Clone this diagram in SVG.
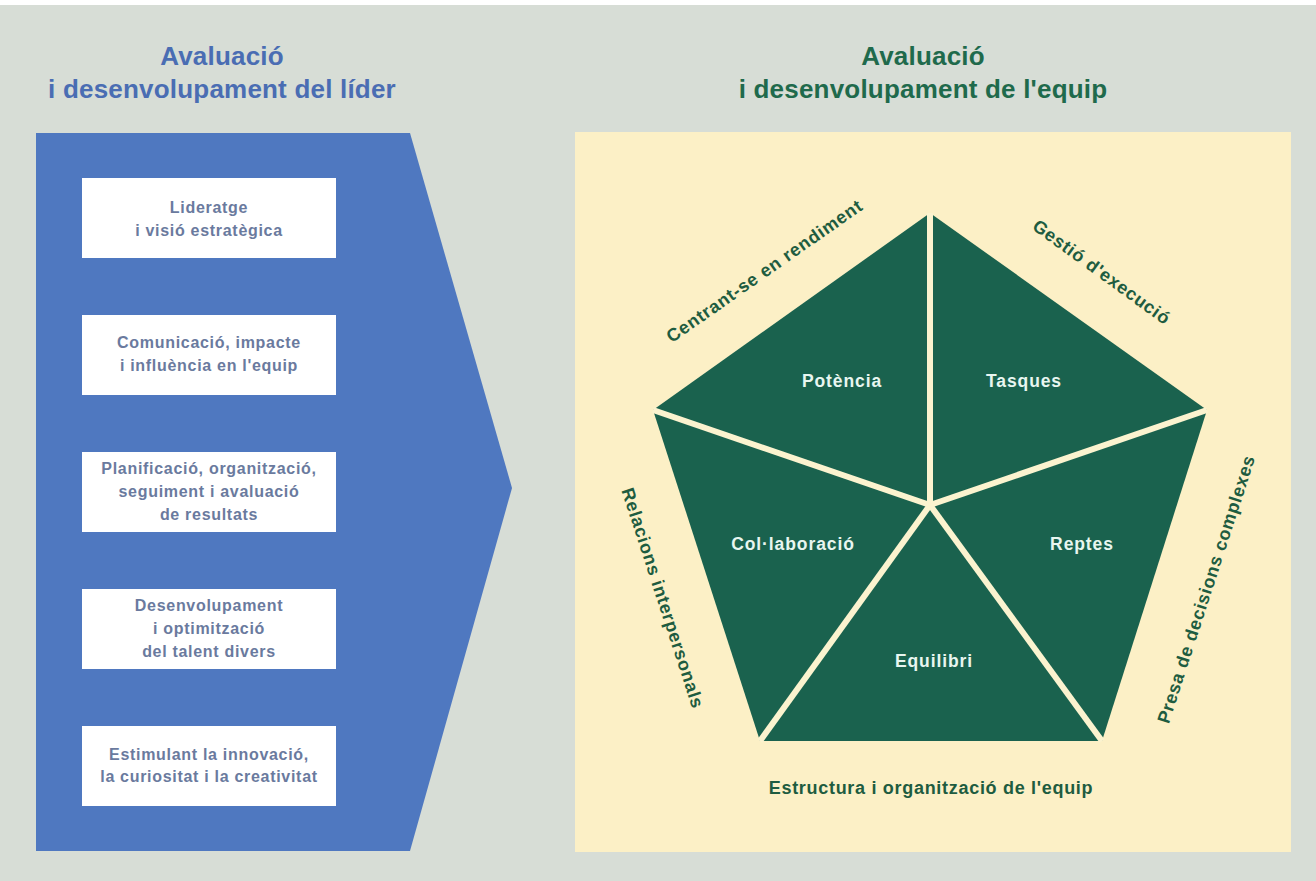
<svg xmlns="http://www.w3.org/2000/svg" width="1316" height="881" viewBox="0 0 1316 881">
<style>
text{font-family:"Liberation Sans",Arial,Helvetica,sans-serif;font-weight:bold;text-anchor:middle}
.title{font-size:26px;letter-spacing:0.2px}
.tl{fill:#4a6db3}
.tr{fill:#1f6a4c}
.box{fill:#ffffff}
.bt{font-size:16px;letter-spacing:0.7px;fill:#6a7a9e}
.sector{fill:#1a624e}
.st{font-size:17.5px;letter-spacing:0.9px;fill:#e8f6f0}
.edge{font-size:18px;letter-spacing:0.7px;fill:#1e5c40}
.div{stroke:#fbf3cf;stroke-width:6;fill:none}
</style>
<rect x="0" y="0" width="1316" height="881" fill="#d7ddd6"/>
<rect x="0" y="0" width="1316" height="5" fill="#ffffff"/>

<g id="title-left">
<text class="title tl" x="222" y="65">Avaluació</text>
<text class="title tl" x="222" y="98">i desenvolupament del líder</text>
</g>
<g id="title-right">
<text class="title tr" x="923" y="65">Avaluació</text>
<text class="title tr" x="923" y="98">i desenvolupament de l'equip</text>
</g>

<g id="leader-panel">
<polygon points="36,133 410,133 512,488 410,851 36,851" fill="#4f78c0"/>
</g>

<g id="box1">
<rect class="box" x="82" y="178" width="254" height="80"/>
<text class="bt" x="209" y="213">Lideratge</text>
<text class="bt" x="209" y="235.5">i visió estratègica</text>
</g>
<g id="box2">
<rect class="box" x="82" y="315" width="254" height="80"/>
<text class="bt" x="209" y="348">Comunicació, impacte</text>
<text class="bt" x="209" y="370.5">i influència en l'equip</text>
</g>
<g id="box3">
<rect class="box" x="82" y="452" width="254" height="80"/>
<text class="bt" x="209" y="474">Planificació, organització,</text>
<text class="bt" x="209" y="497">seguiment i avaluació</text>
<text class="bt" x="209" y="519.5">de resultats</text>
</g>
<g id="box4">
<rect class="box" x="82" y="589" width="254" height="80"/>
<text class="bt" x="209" y="611">Desenvolupament</text>
<text class="bt" x="209" y="634">i optimització</text>
<text class="bt" x="209" y="657">del talent divers</text>
</g>
<g id="box5">
<rect class="box" x="82" y="726" width="254" height="80"/>
<text class="bt" x="209" y="759.5">Estimulant la innovació,</text>
<text class="bt" x="209" y="782">la curiositat i la creativitat</text>
</g>

<g id="team-panel">
<rect x="575" y="132" width="716" height="720" fill="#fcf0c6"/>
</g>

<g id="sector-potencia">
<polygon class="sector" points="930,505 653,410 930,213"/>
<text class="st" x="842" y="387">Potència</text>
</g>
<g id="sector-tasques">
<polygon class="sector" points="930,505 930,213 1207,410"/>
<text class="st" x="1024" y="387">Tasques</text>
</g>
<g id="sector-reptes">
<polygon class="sector" points="930,505 1207,410 1102,741"/>
<text class="st" x="1082" y="550">Reptes</text>
</g>
<g id="sector-equilibri">
<polygon class="sector" points="930,505 1102,741 760,741"/>
<text class="st" x="934" y="667">Equilibri</text>
</g>
<g id="sector-collaboracio">
<polygon class="sector" points="930,505 760,741 653,410"/>
<text class="st" x="793" y="550">Col·laboració</text>
</g>

<g id="connectors">
<line class="div" x1="930" y1="505" x2="930" y2="213"/>
<line class="div" x1="930" y1="505" x2="1207" y2="410"/>
<line class="div" x1="930" y1="505" x2="1102" y2="741"/>
<line class="div" x1="930" y1="505" x2="760" y2="741"/>
<line class="div" x1="930" y1="505" x2="653" y2="410"/>
</g>

<g id="edge-labels">
<text class="edge" transform="translate(768,276) rotate(-35)">Centrant-se en rendiment</text>
<text class="edge" transform="translate(1098,277) rotate(36)">Gestió d'execució</text>
<text class="edge" transform="translate(657,600) rotate(72)">Relacions interpersonals</text>
<text class="edge" transform="translate(1212,591) rotate(-72)">Presa de decisions complexes</text>
<text class="edge" x="931" y="794">Estructura i organització de l'equip</text>
</g>
</svg>
